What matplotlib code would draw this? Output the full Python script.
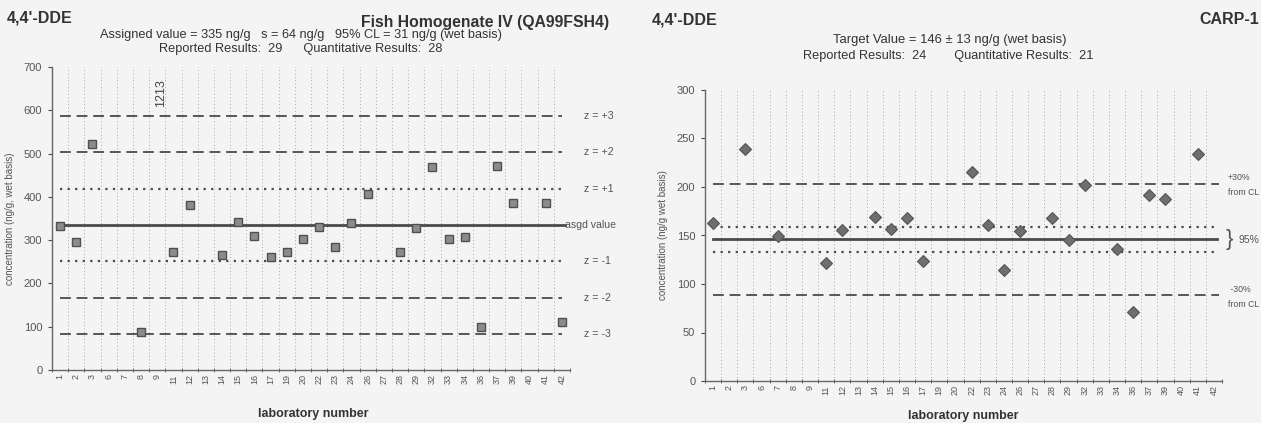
import numpy as np
import matplotlib
matplotlib.use("Agg")
import matplotlib.pyplot as plt

plt.rcParams['font.family'] = ['Liberation Sans', 'DejaVu Sans']

# ---- data -------------------------------------------------------------
labs = [1, 2, 3, 6, 7, 8, 9, 11, 12, 13, 14, 15, 16, 17, 19, 20, 22, 23, 24,
        26, 27, 28, 29, 32, 33, 34, 36, 37, 39, 40, 41, 42]

# Fish Homogenate IV (QA99FSH4), ng/g wet basis (nan = no quantitative result)
fish_values = [332, 296, 521, np.nan, np.nan, 88, 1213, 273, 381, np.nan, 266,
               342, 310, 262, 273, 302, 331, 285, 339, 406, np.nan, 272, 329,
               470, 302, 307, 100, 471, 385, np.nan, 385, 112]
fish_assigned = 335
fish_z_values = [587, 503, 419, 251, 167, 83]
fish_z_labels = ["z = +3", "z = +2", "z = +1", "z = -1", "z = -2", "z = -3"]

# CARP-1, ng/g wet basis
carp_values = [163, np.nan, 239, np.nan, 149, np.nan, np.nan, 122, 156, np.nan,
               169, 157, 168, 124, np.nan, np.nan, 215, 161, 114, 155, np.nan,
               168, 145, 202, np.nan, 136, 71, 192, 188, np.nan, 234, np.nan]
carp_target = 146
carp_ci = [159, 133]
carp_pct = [203, 89]

# ---- style ------------------------------------------------------------
BG = '#f4f4f4'
LINE = '#4a4a4a'
GRID = '#a8a8a8'
TXT = '#333333'
SOFT = '#555555'

fig = plt.figure(figsize=(12.61, 4.23), dpi=100, facecolor=BG)

W, H = 1261, 423


def px_axes(x0, x1, ytop, ybot):
    return fig.add_axes([x0 / W, (H - ybot) / H, (x1 - x0) / W, (ybot - ytop) / H])


def base_axes(ax, ymax, ystep, ylabel):
    n = len(labs)
    x = np.arange(n)
    ax.set_facecolor(BG)
    ax.set_xlim(-0.5, n - 0.5)
    ax.set_ylim(0, ymax)
    ax.set_yticks(np.arange(0, ymax + 1, ystep))
    ax.set_xticks(x)
    ax.set_xticklabels([str(v) for v in labs], rotation=90, fontsize=6.5, color=SOFT)
    ax.set_xticks(np.arange(n + 1) - 0.5, minor=True)
    ax.tick_params(axis='x', which='major', length=0, pad=3)
    ax.tick_params(axis='x', which='minor', length=3, color=LINE, direction='inout')
    ax.tick_params(axis='y', length=3, color=LINE, labelsize=8, labelcolor=SOFT, pad=4)
    for s in ('top', 'right'):
        ax.spines[s].set_visible(False)
    for s in ('left', 'bottom'):
        ax.spines[s].set_color('#666666')
        ax.spines[s].set_linewidth(1.0)
    # category boundary lines
    for b in np.arange(1, n + 1) - 0.5:
        ax.axvline(b, color=GRID, lw=0.7, ls=(0, (1, 2.5)), zorder=1)
    ax.set_ylabel(ylabel, fontsize=7, color=SOFT, labelpad=6)
    return x


dash_long = (0, (6, 3.2))
dot_dense = (0, (1, 2.4))
n = len(labs)

# ---- left panel: Fish Homogenate IV --------------------------------------
axL = px_axes(52, 570, 67, 370)
xL = base_axes(axL, 700, 100, "concentration (ng/g, wet basis)")
for v, lab in zip(fish_z_values, fish_z_labels):
    style = dot_dense if lab in ("z = +1", "z = -1") else dash_long
    lw = 1.6 if style is dot_dense else 1.3
    axL.plot([0, n - 1], [v, v], color=LINE, lw=lw, ls=style, zorder=2)
    axL.text(n - 0.5 + 0.85, v, lab, fontsize=7.7, color=SOFT, va='center', ha='left',
             clip_on=False)
axL.plot([0, n - 1 + 0.2], [fish_assigned, fish_assigned], color=LINE, lw=2.0, zorder=2)
axL.text(n - 0.5 - 0.3, fish_assigned, "asgd value", fontsize=7.6, color=SOFT,
         va='center', ha='left', clip_on=False)
axL.plot(xL, fish_values, ls='none', marker='s', ms=6.4, mfc='#8c8c8c', mec='#505050',
         mew=1.0, zorder=4, clip_on=True)
# off-scale results are written as their value
for xi, v in zip(xL, fish_values):
    if np.isfinite(v) and v > 700:
        axL.text(xi + 0.25, 640, f"{v:.0f}", rotation=90, fontsize=9, color='#444444',
                 ha='center', va='center')

fig.text(7 / W, 1 - 18 / H, "4,4'-DDE", fontsize=11.5, fontweight='bold', color=TXT,
         ha='left', va='center')
fig.text(609 / W, 1 - 22 / H, "Fish Homogenate IV (QA99FSH4)", fontsize=11.3,
         fontweight='bold', color=TXT, ha='right', va='center')
fig.text(301 / W, 1 - 35 / H,
         "Assigned value = 335 ng/g   s = 64 ng/g   95% CL = 31 ng/g (wet basis)",
         fontsize=9.2, color=TXT, ha='center', va='center')
fig.text(301 / W, 1 - 49 / H,
         "Reported Results:  29      Quantitative Results:  28",
         fontsize=9.2, color=TXT, ha='center', va='center')
fig.text(313 / W, 1 - 414 / H, "laboratory number", fontsize=9, fontweight='bold',
         color=TXT, ha='center', va='center')

# ---- right panel: CARP-1 ------------------------------------------------
axR = px_axes(705, 1222, 90, 381)
xR = base_axes(axR, 300, 50, "concentration (ng/g wet basis)")
axR.plot([0, n - 1 + 0.2], [carp_target, carp_target], color=LINE, lw=2.0, zorder=2)
for v in carp_ci:
    axR.plot([0, n - 1 + 0.3], [v, v], color=LINE, lw=1.6, ls=dot_dense, zorder=2)
for v in carp_pct:
    axR.plot([0, n - 1 + 0.3], [v, v], color=LINE, lw=1.3, ls=dash_long, zorder=2)
axR.plot(xR, carp_values, ls='none', marker='D', ms=5.8, mfc='#6e6e6e', mec='#555555',
         mew=0.8, zorder=4)

axR.text(n - 0.5 + 0.25, np.mean(carp_ci), "}", fontsize=16, color=SOFT,
         va='center', ha='left', clip_on=False)
axR.text(n - 0.5 + 1.0, np.mean(carp_ci) - 1, "95%", fontsize=7.5, color=SOFT,
         va='center', ha='left', clip_on=False)
fig.text(1259 / W, 1 - 185 / H, "+30%\nfrom CL", fontsize=6.3, color=SOFT,
         va='center', ha='right', multialignment='left', linespacing=1.9)
fig.text(1259 / W, 1 - 297 / H, " -30%\nfrom CL", fontsize=6.3, color=SOFT,
         va='center', ha='right', multialignment='left', linespacing=1.9)

fig.text(652 / W, 1 - 20 / H, "4,4'-DDE", fontsize=11.5, fontweight='bold', color=TXT,
         ha='left', va='center')
fig.text(1259 / W, 1 - 20 / H, "CARP-1", fontsize=11.5, fontweight='bold', color=TXT,
         ha='right', va='center')
fig.text(950 / W, 1 - 40 / H, "Target Value = 146 ± 13 ng/g (wet basis)",
         fontsize=9.4, color=TXT, ha='center', va='center')
fig.text(948 / W, 1 - 56 / H,
         "Reported Results:  24        Quantitative Results:  21",
         fontsize=9.2, color=TXT, ha='center', va='center')
fig.text(963 / W, 1 - 416 / H, "laboratory number", fontsize=9, fontweight='bold',
         color=TXT, ha='center', va='center')

fig.savefig("out.png", dpi=100, facecolor=BG)
